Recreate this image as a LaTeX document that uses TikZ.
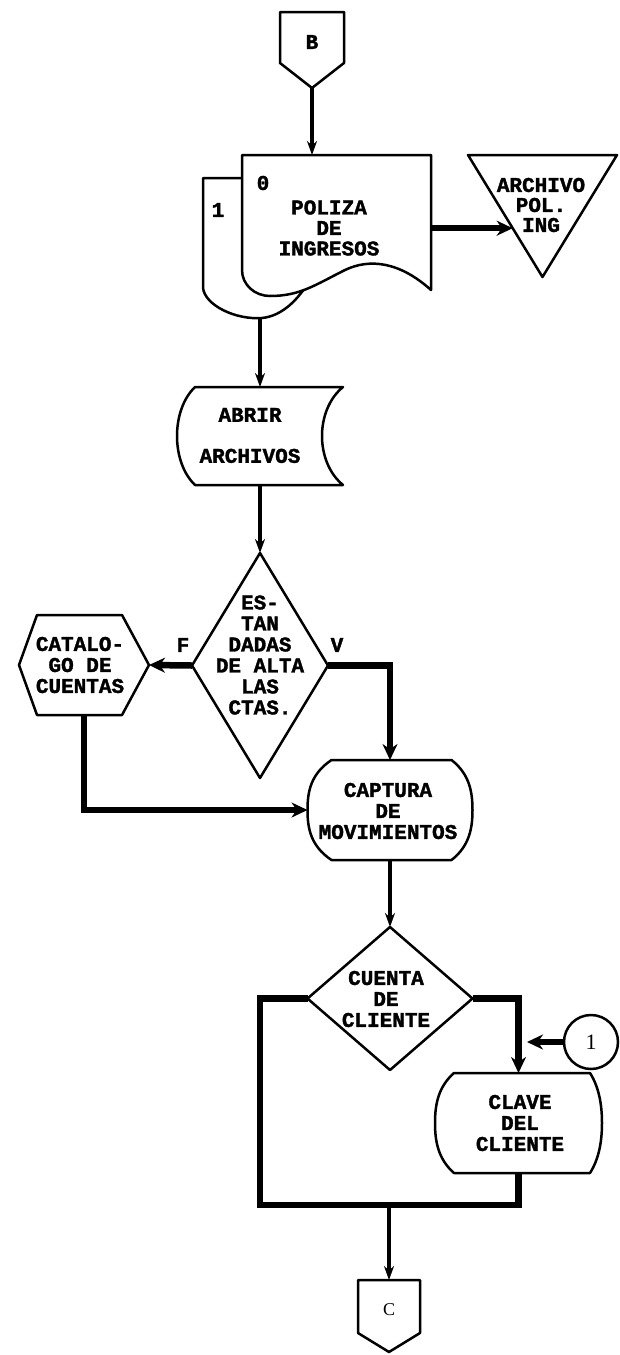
\documentclass[tikz,border=0pt]{standalone}
\usepackage{fontspec}
\newfontfamily\chartfont{Liberation Mono}[BoldFeatures={FakeBold=1.6}]
\newfontfamily\thinfont{Liberation Serif}
\usetikzlibrary{arrows.meta,calc}
\newcommand\dispoutline[3]{%
  \draw[outline] ($(#1.north west)+(#2,0)$) -- ($(#1.north east)+(-#3,0)$)
    .. controls ($(#1.north east)+(-3,14)$) and ($(#1.east)+(0,-18)$) .. (#1.east)
    .. controls ($(#1.east)+(0,18)$) and ($(#1.south east)+(-3,-14)$) .. ($(#1.south east)+(-#3,0)$)
    -- ($(#1.south west)+(#2,0)$)
    .. controls ($(#1.south west)+(3,-14)$) and ($(#1.west)+(0,18)$) .. (#1.west)
    .. controls ($(#1.west)+(0,-18)$) and ($(#1.north west)+(3,14)$) .. cycle;}
\begin{document}
\begin{tikzpicture}[x=1pt,y=-1pt,
  frame/.style={draw=none,inner sep=0pt,outer sep=0pt},
  outline/.style={line width=2.5pt,line join=round,fill=white},
  flow/.style={line width=4pt,-{Stealth[length=14pt,width=10pt]}},
  heavy/.style={line width=6.5pt,-{Stealth[length=16pt,width=15pt]}},
  heavyline/.style={line width=6.5pt},
  txt/.style={font=\chartfont\bfseries\fontsize{21}{21}\selectfont,align=center,inner sep=0pt},
  thintxt/.style={font=\thinfont\fontsize{22}{22}\selectfont,inner sep=0pt}]
\useasboundingbox (0,0) rectangle (619,1355);

% ---------- shape frames ----------
\node[frame,minimum width=64pt,minimum height=76pt] (bcon) at (312,50) {};
\node[frame,minimum width=189pt,minimum height=141pt] (poliza) at (336.5,225.5) {};
\node[frame,minimum width=149pt,minimum height=122pt] (archivo) at (542.5,216) {};
\node[frame,minimum width=166pt,minimum height=98pt] (abrir) at (260,436) {};
\node[frame,minimum width=136pt,minimum height=225pt] (estan) at (260,665.5) {};
\node[frame,minimum width=130pt,minimum height=100pt] (catalogo) at (84,665) {};
\node[frame,minimum width=165pt,minimum height=100pt] (captura) at (390,810) {};
\node[frame,minimum width=165pt,minimum height=143pt] (cuenta) at (390,998.5) {};
\node[frame,minimum width=167pt,minimum height=100pt] (clave) at (518.5,1123) {};
\node[frame,minimum width=62pt,minimum height=72pt] (ccon) at (389,1316) {};
\coordinate (docout) at (260,318);
\coordinate (lowL) at (260,1205);
\coordinate (c1end) at (527,1042);
\coordinate (archin) at ($(archivo.north west)!0.6!(archivo.south)$);

% ---------- outlines ----------
% off-page connector B
\draw[outline] (bcon.north west) -- (bcon.north east) -- ($(bcon.north east)+(0,51)$)
  -- (bcon.south) -- ($(bcon.north west)+(0,51)$) -- cycle;
% back copy of document (1)
\draw[outline] (310,178) -- (203,178) -- (203,288)
  .. controls (205,305) and (235,320) .. (262,318)
  .. controls (282,316) and (298,300) .. (310,280) -- cycle;
% front copy of document (0)
\draw[outline] (poliza.north west) -- (poliza.north east) -- (431,290)
  .. controls (400,262) and (370,258) .. (345,270)
  .. controls (315,285) and (300,296) .. (270,296)
  .. controls (255,296) and (242,285) .. (242,270) -- cycle;
% file (inverted triangle)
\draw[outline] (archivo.north west) -- (archivo.north east) -- (archivo.south) -- cycle;
% stored data
\draw[outline] ($(abrir.north west)+(18,0)$) -- (abrir.north east)
  .. controls ($(abrir.north east)+(-28,23)$) and ($(abrir.south east)+(-28,-23)$) .. (abrir.south east)
  -- ($(abrir.south west)+(18,0)$)
  .. controls ($(abrir.south west)+(-6,-23)$) and ($(abrir.north west)+(-6,23)$) .. cycle;
% decision diamonds
\draw[outline] (estan.north) -- (estan.east) -- (estan.south) -- (estan.west) -- cycle;
\draw[outline] (cuenta.north) -- (cuenta.east) -- (cuenta.south) -- (cuenta.west) -- cycle;
% hexagon
\draw[outline] (catalogo.west) -- ($(catalogo.north west)+(18,0)$) -- ($(catalogo.north east)+(-27,0)$)
  -- (catalogo.east) -- ($(catalogo.south east)+(-27,0)$) -- ($(catalogo.south west)+(18,0)$) -- cycle;
% display shapes
\dispoutline{captura}{24}{21}
\dispoutline{clave}{19}{12}
% connector 1
\node[circle,draw,line width=2.5pt,minimum size=54pt,inner sep=0pt,thintxt] (c1) at (591,1042) {1};
% off-page connector C
\draw[outline] (ccon.north west) -- (ccon.north east) -- ($(ccon.north east)+(0,53)$)
  -- (ccon.south) -- ($(ccon.north west)+(0,53)$) -- cycle;

% ---------- connectors ----------
\draw[flow] (bcon.south) -- (bcon.south |- poliza.north);
\draw[heavy] (poliza.east |- archin) -- (archin);
\draw[flow] (docout) -- (docout |- abrir.north);
\draw[flow] (abrir.south) -- (estan.north);
\draw[heavy] (estan.west) -- (catalogo.east);
\draw[heavy] (estan.east) -| (captura.north);
\draw[heavy] (catalogo.south) |- (captura.west);
\draw[flow] (captura.south) -- (cuenta.north);
\draw[heavyline] (cuenta.west) -| (lowL) -| (clave.south);
\draw[heavy] (cuenta.east) -| (clave.north);
\draw[heavy] (c1.west) -- (c1end);
\draw[flow] (ccon.north |- lowL) -- (ccon.north);

% ---------- texts ----------
\node[txt] (btxt) at (312,42) {B};
\node[txt] (zero) at (263,183) {0};
\node[txt] (one) at (218,210) {1};
\node[txt,font=\chartfont\bfseries\fontsize{21}{20.5}\selectfont] (politxt) at (329,228) {POLIZA\\DE\\INGRESOS};
\node[txt,font=\chartfont\bfseries\fontsize{21}{20}\selectfont] (archtxt) at (541,205) {ARCHIVO\\POL.\\ING};
\node[txt] (abrirtxt) at (250,435.5) {ABRIR\\[20pt]ARCHIVOS};
\node[txt] (estantxt) at (260,655) {ES-\\TAN\\DADAS\\DE ALTA\\LAS\\CTAS.};
\node[txt] (ftxt) at (183,645) {F};
\node[txt] (vtxt) at (337,645) {V};
\node[txt] (cattxt) at (80,665) {CATALO-\\GO DE\\CUENTAS};
\node[txt] (captxt) at (388,811) {CAPTURA\\DE\\MOVIMIENTOS};
\node[txt] (cuentxt) at (386,999) {CUENTA\\DE\\CLIENTE};
\node[txt] (clavtxt) at (520,1123) {CLAVE\\DEL\\CLIENTE};
\node[thintxt,font=\thinfont\fontsize{18}{18}\selectfont] (ctxt) at (389,1310) {C};
\end{tikzpicture}
\end{document}
